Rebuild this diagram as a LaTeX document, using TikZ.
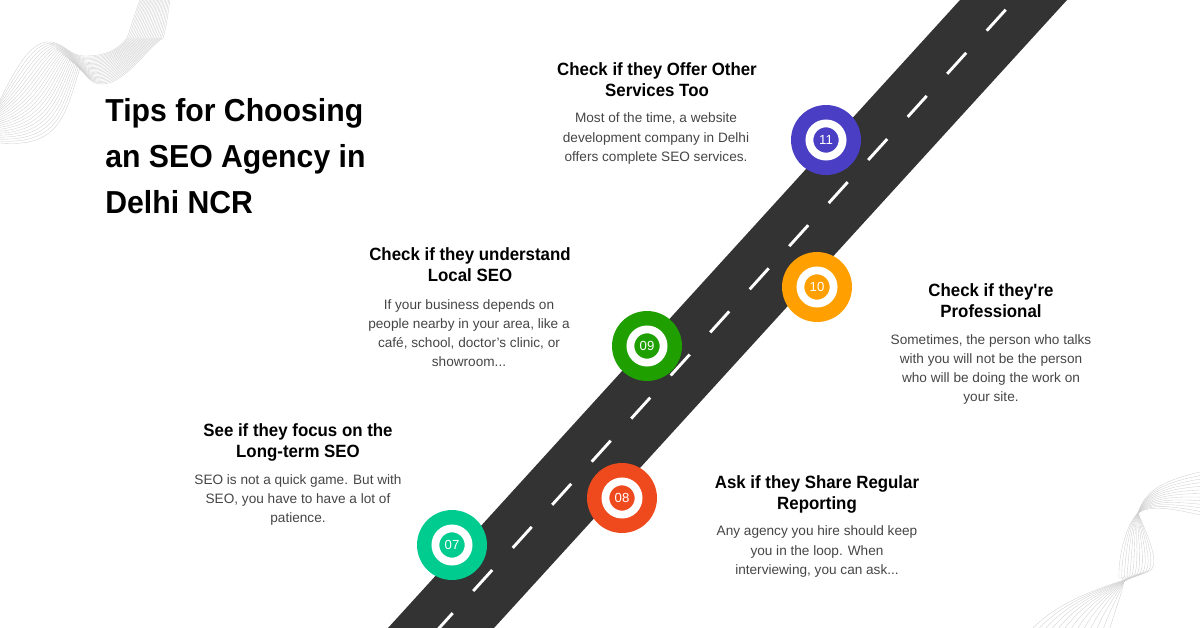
\documentclass[tikz,border=0pt]{standalone}
\usepackage{fontspec}
\setmainfont[BoldFeatures={FakeStretch=0.95}]{Liberation Sans}
\usetikzlibrary{calc}
\definecolor{roadgray}{HTML}{333333}
\definecolor{bodygray}{HTML}{454545}
\definecolor{wavegray}{HTML}{CFCFCF}
\definecolor{stopgreen}{HTML}{00CC8F}
\definecolor{stopred}{HTML}{EF4A1E}
\definecolor{stopleaf}{HTML}{1FA000}
\definecolor{stoporange}{HTML}{FF9F00}
\definecolor{stopblue}{HTML}{4A3FC4}
\tikzset{
  stopring/.style={circle, draw=white, line width=0.156cm, minimum size=0.664cm, inner sep=0pt, text=white, font=\fontsize{7.5}{9}\selectfont},
  stopdisc/.style={circle, minimum size=1.4cm, inner sep=0pt},
  headtext/.style={align=center, inner sep=0pt, font=\fontsize{10.1}{11.9}\selectfont\bfseries},
  bodytext/.style={align=center, inner sep=0pt, text=bodygray, font=\fontsize{7.75}{10.95}\selectfont},
  titletext/.style={align=left, anchor=west, inner sep=0pt, font=\fontsize{18.1}{26.1}\selectfont\bfseries},
  waveline/.style={wavegray, line width=0.2pt},
}
\newcommand{\wavept}[1]{($(u#1)!\wavemix!(l#1)$)}
\begin{document}
\begin{tikzpicture}[x=0.02cm, y=-0.02cm]
\useasboundingbox (0,0) rectangle (1200,628);
\begin{scope}
\clip (0,0) rectangle (1200,628);
\foreach \n/\p/\q in {0/{0,100}/{0,143},1/{15,70}/{60,148},2/{30,42}/{65,115},3/{48,42}/{80,68},
  4/{65,42}/{88,78},5/{68,56}/{92,84},6/{85,56}/{102,84},7/{105,56}/{125,84},8/{118,50}/{145,50},
  9/{127,38}/{163,38},10/{132,25}/{167,25},11/{135,12}/{168,12},12/{140,0}/{170,0}}{
  \coordinate (u\n) at (\p);
  \coordinate (l\n) at (\q);
}
\foreach \k in {0,...,22}{
  \pgfmathsetmacro\wavemix{\k/22}
  \draw[waveline] \wavept{0} .. controls \wavept{1} and \wavept{2} .. \wavept{3}
    .. controls \wavept{4} and \wavept{5} .. \wavept{6}
    .. controls \wavept{7} and \wavept{8} .. \wavept{9}
    .. controls \wavept{10} and \wavept{11} .. \wavept{12};
}
\foreach \n/\p/\q in {0/{1200,472}/{1200,515},1/{1165,480}/{1170,508},2/{1145,490}/{1150,505},3/{1138,513}/{1138,513},
  4/{1145,530}/{1125,525},5/{1160,560}/{1118,560},6/{1151,570}/{1119,578},7/{1140,578}/{1130,575},
  8/{1070,590}/{1118,600},9/{1033,628}/{1110,628}}{
  \coordinate (u\n) at (\p);
  \coordinate (l\n) at (\q);
}
\foreach \k in {0,...,12}{
  \pgfmathsetmacro\wavemix{\k/12}
  \draw[waveline] \wavept{0} .. controls \wavept{1} and \wavept{2} .. \wavept{3}
    .. controls \wavept{4} and \wavept{5} .. \wavept{6}
    .. controls \wavept{7} and \wavept{8} .. \wavept{9};
}
\end{scope}
\fill[roadgray] (960,0) -- (1067,0) -- (494,628) -- (388,628) -- cycle;
\begin{scope}
\clip (0,0) rectangle (1200,628);
\foreach \i in {0,...,14}{
  \draw[white, line width=0.058cm] ({986.7-39.5*\i},{30.7+43.1*\i}) -- ++(19,-21);
}
\end{scope}
\foreach \name/\x/\y/\col/\num in {stopa/452/545/stopgreen/07, stopb/622/498/stopred/08, stopc/647/346/stopleaf/09, stopd/817/287/stoporange/10, stope/826/140/stopblue/11}{
  \node[stopdisc, fill=\col] (\name) at (\x,\y) {};
  \node[stopring, fill=\col] (\name num) at (\name) {\num};
}
\node[titletext] (title) at (105,156) {Tips for Choosing\\an SEO Agency in\\Delhi NCR};
\node[headtext] (heade) at (657,79.5) {Check if they Offer Other\\Services Too};
\node[bodytext] (bodye) at (656,138.5) {Most of the time, a website\\development company in Delhi\\offers complete SEO services.};
\node[headtext] (headc) at (470,264.5) {Check if they understand\\Local SEO};
\node[bodytext] (bodyc) at (469,333) {If your business depends on\\people nearby in your area, like a\\café, school, doctor’s clinic, or\\showroom...};
\node[headtext] (headd) at (991,300.5) {Check if they\textquotesingle re\\Professional};
\node[bodytext] (bodyd) at (991,369.5) {Sometimes, the person who talks\\with you will not be the person\\who will be doing the work on\\your site.};
\node[headtext] (heada) at (298,442.5) {See if they focus on the\\Long-term SEO};
\node[bodytext] (bodya) at (298,500) {SEO is not a quick game. But with\\SEO, you have to have a lot of\\patience.};
\node[headtext] (headb) at (817,494.5) {Ask if they Share Regular\\Reporting};
\node[bodytext] (bodyb) at (817,551.5) {Any agency you hire should keep\\you in the loop. When\\interviewing, you can ask...};
\end{tikzpicture}
\end{document}
